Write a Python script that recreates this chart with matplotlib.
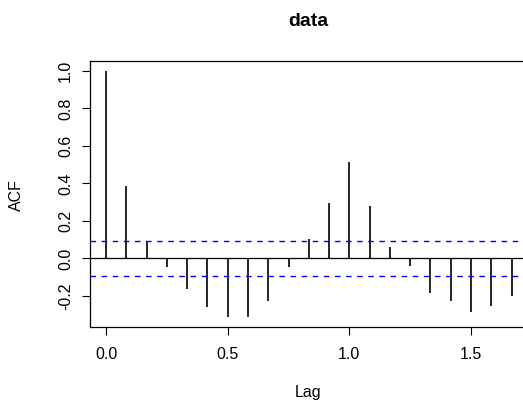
import numpy as np
import matplotlib
matplotlib.use('Agg')
import matplotlib.pyplot as plt

plt.rcParams['font.family'] = ['Liberation Sans', 'DejaVu Sans']

# sample autocorrelations, lags in years (monthly series)
lags = np.arange(21) / 12
acf = [1.0, 0.385, 0.094, -0.043, -0.164, -0.257, -0.310, -0.310, -0.225,
       -0.043, 0.105, 0.298, 0.512, 0.280, 0.062, -0.039, -0.185, -0.225,
       -0.283, -0.251, -0.200]
ci = 0.095
xticks = [0.0, 0.5, 1.0, 1.5]
yticks = [-0.2, 0.0, 0.2, 0.4, 0.6, 0.8, 1.0]

W, H = 523, 403
fig = plt.figure(figsize=(W / 100, H / 100), dpi=100)
x0, x1, y0, y1 = 89.8, 527.8, 61, 326.5
ax = fig.add_axes([x0 / W, 1 - y1 / H, (x1 - x0) / W, (y1 - y0) / H])

ax.vlines(lags, 0, acf, color='black', lw=1.2)
ax.axhline(0, color='black', lw=0.9)
ax.axhline(ci, color='blue', lw=1, ls=(0, (4, 4)))
ax.axhline(-ci, color='blue', lw=1, ls=(0, (4, 4)))

rng = lags[-1] - lags[0]
ax.set_xlim(-0.04 * rng, lags[-1] + 0.04 * rng)
ylo, yhi = min(acf), max(acf)
ax.set_ylim(ylo - 0.04 * (yhi - ylo), yhi + 0.04 * (yhi - ylo))

ax.set_xticks(xticks)
ax.set_xticklabels([f'{t:.1f}' for t in xticks])
ax.set_yticks(yticks)
ax.set_yticklabels([f'{t:.1f}' for t in yticks], rotation=90, va='center')
ax.tick_params(direction='out', length=6, width=0.8, labelsize=11.5, pad=9)
ax.tick_params(axis='y', pad=6)
for s in ax.spines.values():
    s.set_linewidth(0.9)

fig.text(308 / W, 1 - 21 / H, 'data', ha='center', va='center',
         fontsize=14, fontweight='bold')
fig.text(308 / W, 1 - 392 / H, 'Lag', ha='center', va='center', fontsize=11.5)
fig.text(16 / W, 1 - 195 / H, 'ACF', ha='center', va='center', fontsize=11.5,
         rotation=90)

fig.savefig('out.png', dpi=100)
